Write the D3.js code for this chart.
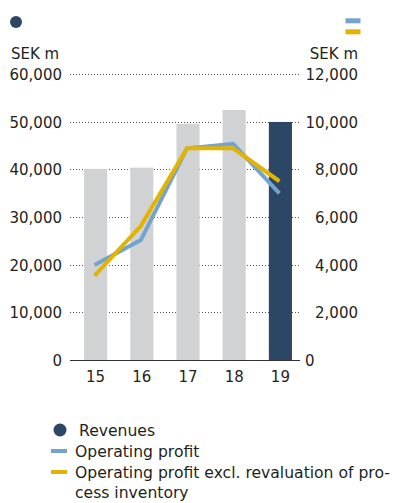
<!DOCTYPE html>
<html>
<head>
<meta charset="utf-8">
<script src="https://cdn.jsdelivr.net/npm/d3@7"></script>
<style>
  html, body { margin: 0; padding: 0; background: #fff; }
  svg text { font-family: "DejaVu Sans", sans-serif; fill: #231f20; }
</style>
</head>
<body>
<svg id="chart" width="403" height="503"></svg>
<script>
// Years shown on the x axis
const years = ["15", "16", "17", "18", "19"];
// Revenues, SEK m (left axis)
const revenues = [40100, 40350, 49550, 52450, 49940];
// Operating profit, SEK m (right axis)
const operatingProfit = [3985, 5030, 8880, 9070, 6995];
// Operating profit excl. revaluation of process inventory, SEK m (right axis)
const operatingProfitExcl = [3540, 5620, 8880, 8880, 7500];
// Axis ticks
const leftTicks = [0, 10000, 20000, 30000, 40000, 50000, 60000];
const rightTicks = [0, 2000, 4000, 6000, 8000, 10000, 12000];
// Legend entries
const legendLabels = ["Revenues", "Operating profit", ["Operating profit excl. revaluation of pro-", "cess inventory"]];

const colors = {
  bar: "#d1d2d4",
  barHighlight: "#2c4766",
  profit: "#74a3cf",
  profitExcl: "#e2b400",
  grid: "#555",
  axis: "#333"
};

const svg = d3.select("#chart");
const x0 = 70, x1 = 300, yTop = 74, yBottom = 360;

const x = d3.scaleBand().domain(years).range([72.5, 303.5]).paddingInner(0.5).paddingOuter(0.25);
const yLeft = d3.scaleLinear().domain([0, 60000]).range([yBottom, yTop]);
const yRight = d3.scaleLinear().domain([0, 12000]).range([yBottom, yTop]);
const fmt = d3.format(",");

// Dotted gridlines
svg.append("g").selectAll("line").data(leftTicks.filter(d => d > 0)).join("line")
  .attr("x1", x0).attr("x2", x1)
  .attr("y1", d => Math.round(yLeft(d)) + 0.5).attr("y2", d => Math.round(yLeft(d)) + 0.5)
  .attr("stroke", colors.grid).attr("stroke-width", 1).attr("stroke-dasharray", "1,2");

// Revenue bars
svg.append("g").selectAll("rect").data(years).join("rect")
  .attr("x", d => x(d)).attr("width", x.bandwidth())
  .attr("y", (d, i) => yLeft(revenues[i]))
  .attr("height", (d, i) => yBottom - yLeft(revenues[i]))
  .attr("fill", (d, i) => i === years.length - 1 ? colors.barHighlight : colors.bar);

// Baseline
svg.append("line").attr("x1", x0).attr("x2", x1)
  .attr("y1", yBottom + 0.5).attr("y2", yBottom + 0.5)
  .attr("stroke", colors.axis).attr("stroke-width", 1);

// Profit lines
const line = d3.line().x((d, i) => x(years[i]) + x.bandwidth() / 2 - 1).y(d => yRight(d));
[[operatingProfit, colors.profit], [operatingProfitExcl, colors.profitExcl]].forEach(([vals, c]) => {
  svg.append("path").datum(vals).attr("d", line)
    .attr("fill", "none").attr("stroke", c).attr("stroke-width", 4)
    .attr("stroke-linejoin", "miter");
});

// Left axis labels
svg.append("g").selectAll("text").data(leftTicks).join("text")
  .attr("x", 62).attr("y", d => yLeft(d) + 6)
  .attr("text-anchor", "end").attr("font-size", 15)
  .text(d => fmt(d));

// Right axis labels (the zero sits right next to the baseline end)
svg.append("g").selectAll("text").data(rightTicks).join("text")
  .attr("x", d => d === 0 ? 305 : 358).attr("y", d => yRight(d) + 6)
  .attr("text-anchor", d => d === 0 ? "start" : "end").attr("font-size", 15)
  .text(d => fmt(d));

// X axis labels
svg.append("g").selectAll("text").data(years).join("text")
  .attr("x", d => x(d) + x.bandwidth() / 2).attr("y", 382)
  .attr("text-anchor", "middle").attr("font-size", 15)
  .text(d => d);

// Unit labels
svg.append("text").attr("x", 11).attr("y", 59).attr("font-size", 15).text("SEK m");
svg.append("text").attr("x", 358).attr("y", 59).attr("font-size", 15).attr("text-anchor", "end").text("SEK m");

// Axis keys at the top
svg.append("circle").attr("cx", 16).attr("cy", 22).attr("r", 6).attr("fill", colors.barHighlight);
svg.append("rect").attr("x", 345.5).attr("y", 18.3).attr("width", 15).attr("height", 5).attr("fill", colors.profit);
svg.append("rect").attr("x", 345.5).attr("y", 29.3).attr("width", 15).attr("height", 5).attr("fill", colors.profitExcl);

// Legend
const lg = svg.append("g");
const lfs = 15.6;
lg.append("circle").attr("cx", 60).attr("cy", 430).attr("r", 6.5).attr("fill", colors.barHighlight);
lg.append("text").attr("x", 79).attr("y", 436).attr("font-size", lfs).text(legendLabels[0]);
lg.append("rect").attr("x", 51).attr("y", 449).attr("width", 16).attr("height", 4).attr("fill", colors.profit);
lg.append("text").attr("x", 75).attr("y", 457).attr("font-size", lfs).text(legendLabels[1]);
lg.append("rect").attr("x", 51).attr("y", 470).attr("width", 16).attr("height", 4).attr("fill", colors.profitExcl);
const t3 = lg.append("text").attr("font-size", lfs);
t3.append("tspan").attr("x", 75).attr("y", 478).text(legendLabels[2][0]);
t3.append("tspan").attr("x", 75).attr("y", 498).text(legendLabels[2][1]);
</script>
</body>
</html>
